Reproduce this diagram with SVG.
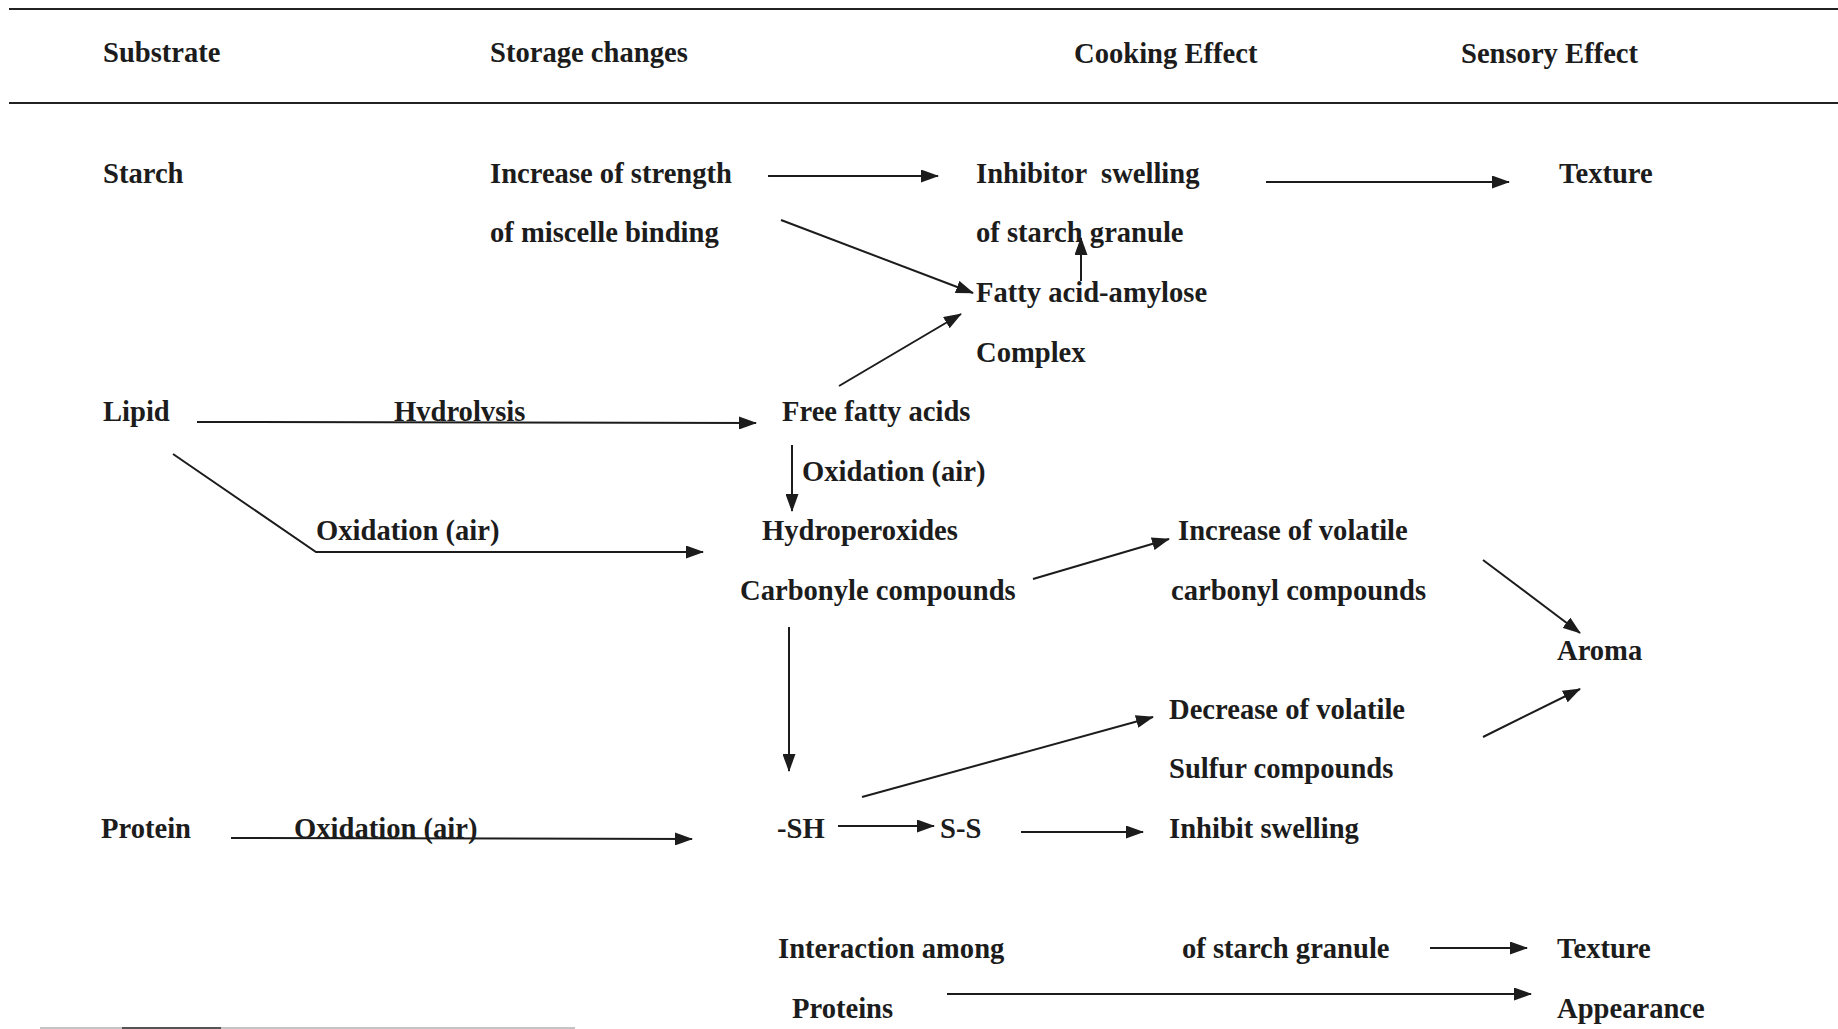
<svg xmlns="http://www.w3.org/2000/svg" width="1838" height="1029" viewBox="0 0 1838 1029">
<style>
text{font-family:"Liberation Serif","Times New Roman",serif;font-weight:bold;font-size:28.6px;fill:#1c1c1c}
.c{stroke:#1c1c1c;stroke-width:2;fill:none}
.a{marker-end:url(#ah)}
.rule{stroke:#222;stroke-width:2.2}
</style>
<defs>
<marker id="ah" markerUnits="userSpaceOnUse" markerWidth="18" markerHeight="13" refX="17" refY="6.5" orient="auto">
<path d="M0,0 L18,6.5 L0,13 z" fill="#1c1c1c"/>
</marker>
</defs>
<rect width="1838" height="1029" fill="#fff"/>
<g id="rules">
<line class="rule" x1="9" y1="9" x2="1838" y2="9"/>
<line class="rule" x1="9" y1="103" x2="1838" y2="103"/>
<line x1="40" y1="1028" x2="575" y2="1028" stroke="#c4c4c4" stroke-width="2"/>
<line x1="122" y1="1028" x2="221" y2="1028" stroke="#555" stroke-width="2"/>
</g>
<g id="headers">
<text x="103" y="62">Substrate</text>
<text x="490" y="62">Storage changes</text>
<text x="1074" y="63">Cooking Effect</text>
<text x="1461" y="63">Sensory Effect</text>
</g>
<g id="starch"><text x="103" y="183">Starch</text></g>
<g id="increase-strength"><text x="490" y="183">Increase of strength</text><text x="490" y="242">of miscelle binding</text></g>
<g id="inhibitor-swelling"><text x="976" y="183" xml:space="preserve">Inhibitor  swelling</text><text x="976" y="242">of starch granule</text></g>
<g id="texture1"><text x="1559" y="183">Texture</text></g>
<g id="fatty-acid-amylose"><text x="976" y="302">Fatty acid-amylose</text><text x="976" y="362">Complex</text></g>
<g id="lipid"><text x="103" y="421">Lipid</text></g>
<g id="free-fatty-acids"><text x="782" y="421">Free fatty acids</text></g>
<g id="hydroperoxides"><text x="762" y="540">Hydroperoxides</text><text x="740" y="600">Carbonyle compounds</text></g>
<g id="increase-volatile"><text x="1178" y="540">Increase of volatile</text><text x="1171" y="600">carbonyl compounds</text></g>
<g id="aroma"><text x="1557" y="660">Aroma</text></g>
<g id="decrease-volatile"><text x="1169" y="719">Decrease of volatile</text><text x="1169" y="778">Sulfur compounds</text></g>
<g id="protein"><text x="101" y="838">Protein</text></g>
<g id="sh"><text x="777" y="838">-SH</text></g>
<g id="ss"><text x="940" y="838">S-S</text></g>
<g id="inhibit-swelling"><text x="1169" y="838">Inhibit swelling</text><text x="1182" y="958">of starch granule</text></g>
<g id="interaction"><text x="778" y="958">Interaction among</text><text x="792" y="1018">Proteins</text></g>
<g id="texture2"><text x="1557" y="958">Texture</text></g>
<g id="appearance"><text x="1557" y="1018">Appearance</text></g>
<g id="connectors">
<line class="c a" x1="768" y1="176" x2="938" y2="176"/>
<line class="c a" x1="1266" y1="182" x2="1509" y2="182"/>
<line class="c a" x1="781" y1="220" x2="973" y2="293"/>
<line class="c a" x1="1081" y1="281" x2="1081" y2="238"/>
<line class="c a" x1="839" y1="386" x2="961" y2="314"/>
<line class="c a" x1="197" y1="422" x2="756" y2="423"/>
<polyline class="c a" points="173,454 316,552 703,552"/>
<line class="c a" x1="792" y1="445" x2="792" y2="511"/>
<line class="c a" x1="1033" y1="579" x2="1169" y2="539"/>
<line class="c a" x1="1483" y1="560" x2="1580" y2="633"/>
<line class="c a" x1="789" y1="627" x2="789" y2="771"/>
<line class="c a" x1="862" y1="797" x2="1153" y2="717"/>
<line class="c a" x1="1483" y1="737" x2="1580" y2="689"/>
<line class="c a" x1="231" y1="838" x2="692" y2="839" stroke-width="2.6"/>
<line class="c a" x1="838" y1="826" x2="934" y2="826"/>
<line class="c a" x1="1021" y1="832" x2="1143" y2="832"/>
<line class="c a" x1="1430" y1="948" x2="1527" y2="948"/>
<line class="c a" x1="947" y1="994" x2="1531" y2="994"/>
</g>
<g id="edge-labels">
<text x="394" y="421">Hvdrolvsis</text>
<text x="802" y="481">Oxidation (air)</text>
<text x="316" y="540">Oxidation (air)</text>
<text x="294" y="838">Oxidation (air)</text>
</g>
</svg>
